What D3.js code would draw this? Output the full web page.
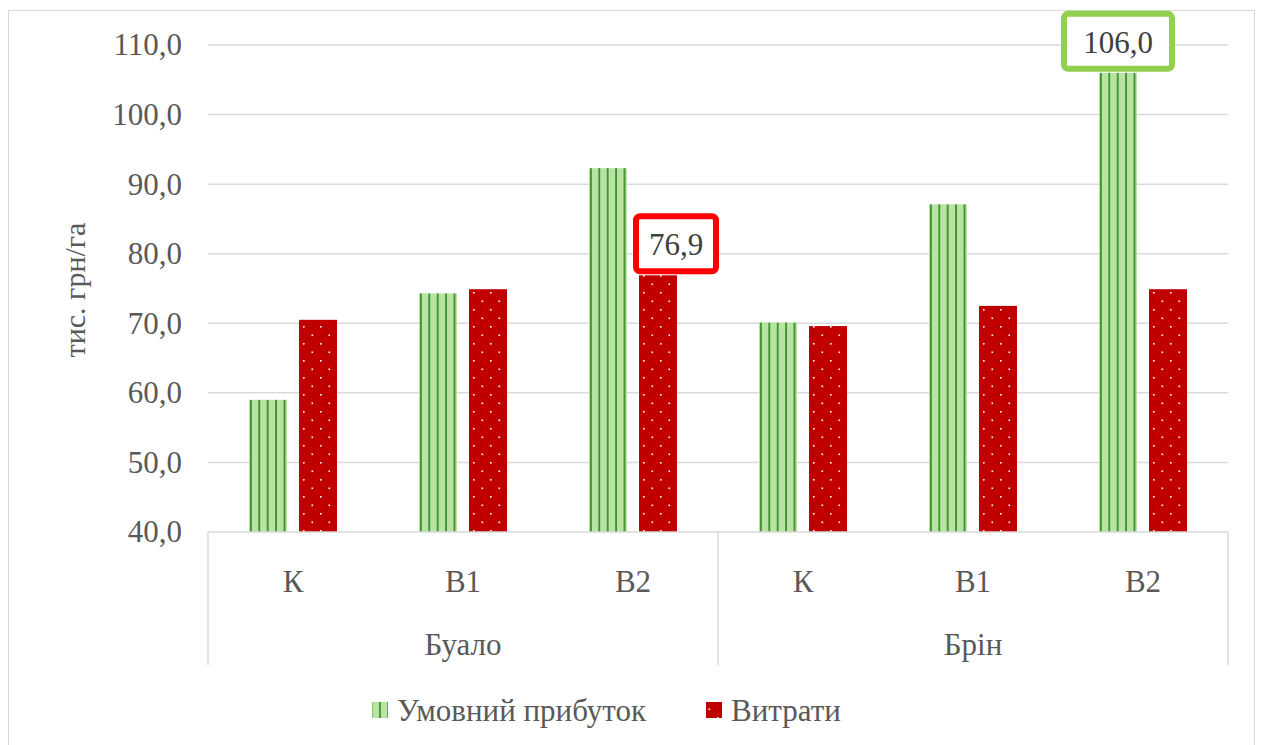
<!DOCTYPE html>
<html>
<head>
<meta charset="utf-8">
<script src="https://cdn.jsdelivr.net/npm/d3@7"></script>
<style>
  body { margin: 0; background: #fff; }
  svg { display: block; }
  svg text { font-family: "Liberation Serif", "Times New Roman", Times, "DejaVu Serif", serif !important; }
</style>
</head>
<body>
<div class="container"></div>
<script>
// chart data
var groups = ["Буало", "Брін"];
var variants = ["К", "В1", "В2"];
var seriesNames = ["Умовний прибуток", "Витрати"];
var profit = [59.0, 74.3, 92.3, 70.1, 87.1, 106.0];
var costs = [70.5, 74.9, 76.9, 69.6, 72.5, 74.9];
var yTicks = [40, 50, 60, 70, 80, 90, 100, 110];

var W = 1262, H = 745;
var plot = { left: 208, right: 1228, top: 45, bottom: 532 };

var svg = d3.select(".container").append("svg")
  .attr("width", W)
  .attr("height", H);

// patterns for bars
var defs = svg.append("defs");
var pg = defs.append("pattern")
  .attr("id", "stripes")
  .attr("patternUnits", "userSpaceOnUse")
  .attr("width", 8.4).attr("height", 10);
pg.append("rect").attr("width", 8.4).attr("height", 10).attr("fill", "#b7e4a3");
pg.append("rect").attr("x", 1).attr("width", 1.8).attr("height", 10).attr("fill", "#3f8f2c");

var pr = defs.append("pattern")
  .attr("id", "dots")
  .attr("patternUnits", "userSpaceOnUse")
  .attr("width", 17).attr("height", 17);
pr.append("rect").attr("width", 17).attr("height", 17).attr("fill", "#c00000");
pr.append("rect").attr("x", 3).attr("y", 3).attr("width", 1.6).attr("height", 1.6).attr("fill", "#fff");
pr.append("rect").attr("x", 11.5).attr("y", 11.5).attr("width", 1.6).attr("height", 1.6).attr("fill", "#fff");

var fills = ["url(#stripes)", "url(#dots)"];

// outer frame
svg.append("rect")
  .attr("x", 8.5).attr("y", 10.5)
  .attr("width", 1246).attr("height", 745)
  .attr("fill", "none").attr("stroke", "#d9d9d9");

var y = d3.scaleLinear().domain([40, 110]).range([plot.bottom, plot.top]);

var cats = [];
groups.forEach(function (g) {
  variants.forEach(function (v) { cats.push(g + "|" + v); });
});

var x0 = d3.scaleBand().domain(cats).range([plot.left, plot.right]);
var x1 = d3.scaleBand().domain([0, 1]).range([0, 88]).paddingInner(0.24);
var groupOffset = (x0.bandwidth() - 88) / 2;

// grid
svg.append("g").selectAll("line")
  .data(yTicks.slice(1))
  .enter().append("line")
  .attr("x1", plot.left).attr("x2", plot.right)
  .attr("y1", function (d) { return y(d); })
  .attr("y2", function (d) { return y(d); })
  .attr("stroke", "#d9d9d9").attr("stroke-width", 1.5);

// y axis labels
var yAxis = d3.axisLeft(y).tickValues(yTicks).tickSize(0).tickPadding(26)
  .tickFormat(function (d) { return d3.format(".1f")(d).replace(".", ","); });
var ya = svg.append("g").attr("transform", "translate(" + plot.left + ",0)").call(yAxis);
ya.select(".domain").remove();
ya.selectAll("text")
  .attr("font-size", 31).attr("fill", "#595959");

svg.append("text")
  .attr("transform", "translate(85," + 290 + ") rotate(-90)")
  .attr("text-anchor", "middle")
  .attr("font-size", 30).attr("fill", "#595959")
  .text("тис. грн/га");

// bars
var rows = cats.map(function (c, i) { return { cat: c, vals: [profit[i], costs[i]] }; });
var barG = svg.append("g").selectAll("g")
  .data(rows)
  .enter().append("g")
  .attr("transform", function (d) { return "translate(" + (x0(d.cat) + groupOffset) + ",0)"; });

barG.selectAll("rect")
  .data(function (d) { return d.vals; })
  .enter().append("rect")
  .attr("x", function (d, i) { return x1(i); })
  .attr("width", x1.bandwidth())
  .attr("y", function (d) { return y(d); })
  .attr("height", function (d) { return y(40) - y(d); })
  .attr("fill", function (d, i) { return fills[i]; });

// x axis line and separators
svg.append("line")
  .attr("x1", plot.left).attr("x2", plot.right)
  .attr("y1", plot.bottom).attr("y2", plot.bottom)
  .attr("stroke", "#d9d9d9").attr("stroke-width", 1.5);

var sepX = [plot.left, plot.left + (plot.right - plot.left) / 2, plot.right];
svg.append("g").selectAll("line")
  .data(sepX)
  .enter().append("line")
  .attr("x1", function (d) { return d; }).attr("x2", function (d) { return d; })
  .attr("y1", plot.bottom).attr("y2", 665)
  .attr("stroke", "#d9d9d9").attr("stroke-width", 1.5);

svg.append("g").selectAll("text")
  .data(cats)
  .enter().append("text")
  .attr("x", function (d) { return x0(d) + x0.bandwidth() / 2; })
  .attr("y", 592)
  .attr("text-anchor", "middle")
  .attr("font-size", 31).attr("fill", "#595959")
  .text(function (d) { return d.split("|")[1]; });

svg.append("g").selectAll("text")
  .data(groups)
  .enter().append("text")
  .attr("x", function (d, i) { return (sepX[i] + sepX[i + 1]) / 2; })
  .attr("y", 655)
  .attr("text-anchor", "middle")
  .attr("font-size", 31).attr("fill", "#595959")
  .text(function (d) { return d; });

// highlighted data labels
var callouts = [
  { idx: 2, s: 1, color: "#ff0000", w: 80, dx: 18 },
  { idx: 5, s: 0, color: "#92d050", w: 108, dx: 0 }
];
callouts.forEach(function (c) {
  var v = c.s === 0 ? profit[c.idx] : costs[c.idx];
  var cx = x0(cats[c.idx]) + groupOffset + x1(c.s) + x1.bandwidth() / 2 + c.dx;
  var bottom = y(v) - 4;
  var g = svg.append("g");
  g.append("rect")
    .attr("x", cx - c.w / 2).attr("y", bottom - 55)
    .attr("width", c.w).attr("height", 55)
    .attr("rx", 4)
    .attr("fill", "#fff").attr("stroke", c.color).attr("stroke-width", 6);
  g.append("text")
    .attr("x", cx).attr("y", bottom - 16)
    .attr("text-anchor", "middle")
    .attr("font-size", 31).attr("fill", "#404040")
    .text(d3.format(".1f")(v).replace(".", ","));
});

// legend
var legend = svg.append("g");
var legendItems = [{ x: 372, name: seriesNames[0] }, { x: 706, name: seriesNames[1] }];
legendItems.forEach(function (d, i) {
  legend.append("rect")
    .attr("x", d.x).attr("y", 702)
    .attr("width", 16).attr("height", 16)
    .attr("fill", fills[i]);
  legend.append("text")
    .attr("x", d.x + 25).attr("y", 721)
    .attr("font-size", 31).attr("fill", "#595959")
    .text(d.name);
});
</script>
</body>
</html>
